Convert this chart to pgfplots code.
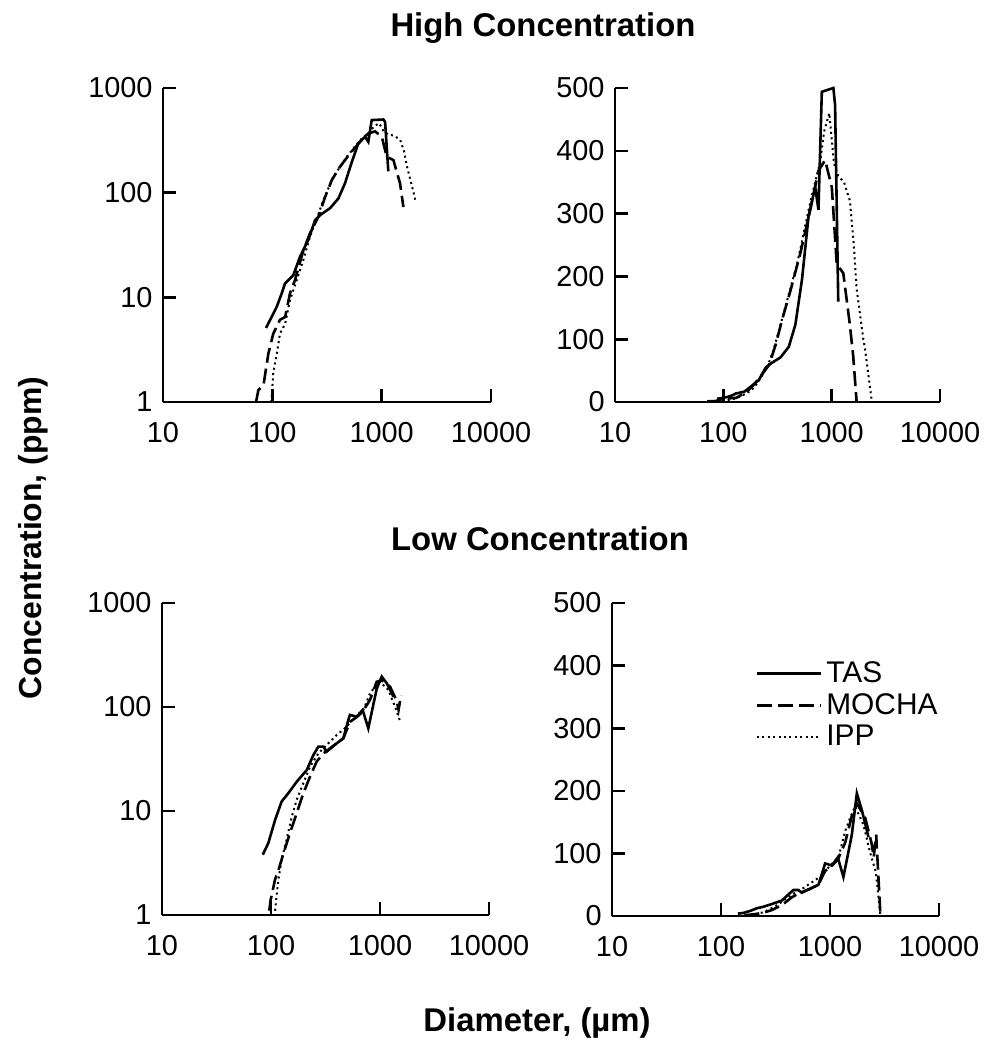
\documentclass[border=0pt]{standalone}
\usepackage{fontspec}
\setmainfont{Liberation Sans}
\usepackage{pgfplots}
\pgfplotsset{compat=1.18}
\usepackage{pgfplotstable}

% High concentration
\pgfplotstableread{
d c
87.5 5.1
98.6 6.5
109.6 8.1
121.8 10.9
130.7 13.6
155.6 16.3
179 24.4
213 35.3
246 54.7
273 61
337 71
402 88
462 123
532 195
612 296
705 342
755 306
811 494
1037 500
1075 473
1150 160
}\tashigh
\pgfplotstableread{
d c
71 1.0
74.5 1.3
83 1.45
92 2.9
102 4.5
117.5 6.1
131 6.5
145 10.9
161 14.6
192 28
221 41
264 59
304 91
350 132
416 177
514 237
634 306
755 368
870 385
1003 342
1113 220
1280 205
1472 123
1580 73
1700 0
}\mochahigh
\pgfplotstableread{
d c
98 1.0
102 1.9
110 2.9
117.5 4.5
131 5.6
145 9.4
167 14.6
192 22.7
221 38
260 60
293 85
361 142
480 220
634 318
783 382
850 430
950 460
1050 380
1150 360
1300 350
1475 320
1600 250
1700 180
1960 100
2030 85
2350 0
}\ipphigh

% Low concentration (left panel)
\pgfplotstableread{
d c
84 3.8
94.4 4.9
109 8.2
125 12.3
144 14.8
172 19.1
213 24.8
245 34.6
272 41.6
302 41.6
324 37.2
401 44.8
461 50
512 75
530 84
611 80.7
693 93.6
781 62.4
933 150
1037 196
1153 169
1326 126
}\taslow
\pgfplotstableread{
d c
96.4 1.1
99.3 1.4
109 2.2
117 2.7
130 3.9
149 6.1
172 9.5
198 14.8
228 21.4
262 29.8
302 35.8
401 44.8
461 50
530 72
611 80
693 90
809 117
933 175
1037 180
1236 157
1420 115
1480 94
1560 130
1708 0
}\mochalow
\pgfplotstableread{
d c
109 1.1
113 1.6
117 2.2
125 3.4
139 5.3
155 8.8
172 12.8
198 18.5
228 26.7
272 35.8
336 44.8
401 53.8
495 64.7
590 80.7
703 93.6
809 135
900 157
1000 175
1191 146
1374 101
1550 70
1708 0
}\ipplow

% Low concentration (right panel)
\pgfplotstableread{
d c
142.8 3.8
160.5 4.9
185.3 8.2
212.5 12.3
244.8 14.8
292.4 19.1
362.1 24.8
416.5 34.6
462.4 41.6
513.4 41.6
550.8 37.2
681.7 44.8
783.7 50
870.4 75
901 84
1038.7 80.7
1178.1 93.6
1327.7 62.4
1586.1 130
1762.9 196
1960.1 169
2254.2 126
}\taslowr
\pgfplotstableread{
d c
163.9 1.1
168.8 1.4
185.3 2.2
198.9 2.7
221 3.9
253.3 6.1
292.4 9.5
336.6 14.8
387.6 21.4
445.4 29.8
513.4 35.8
681.7 44.8
783.7 50
901 72
1038.7 80
1178.1 90
1375.3 117
1586.1 160
1762.9 180
2101.2 157
2414 115
2516 94
2652 130
2903.6 0
}\mochalowr
\pgfplotstableread{
d c
185.3 1.1
192.1 1.6
198.9 2.2
212.5 3.4
236.3 5.3
263.5 8.8
292.4 12.8
336.6 18.5
387.6 26.7
462.4 35.8
571.2 44.8
681.7 53.8
841.5 64.7
1003 80.7
1195.1 93.6
1375.3 135
1530 157
1700 175
2024.7 146
2335.8 101
2635 70
2903.6 0
}\ipplowr

\pgfplotsset{
  panel/.style={
    scale only axis,
    axis lines=left,
    axis line style={-, line width=1.4bp},
    tick align=inside,
    major tick length=6.5bp,
    every tick/.style={black, line width=1.3bp},
    xmin=10, xmax=10000,
    xtick={10,100,1000,10000},
    xticklabels={10,100,1000,10000},
    xminorticks=false, yminorticks=false,
    ticklabel style={font=\fontsize{14.5}{16}\selectfont},
    yticklabel style={xshift=-1.7bp},
    xticklabel style={yshift=-6.5bp},
    clip=false,
  },
  logy/.style={ymin=1, ymax=1000,
    ytick={1,10,100,1000}, yticklabels={1,10,100,1000}},
  liny/.style={ymin=0, ymax=500, ytick={0,100,200,300,400,500},
    yticklabels={0,100,200,300,400,500}},
  tas/.style={black, line width=1.3bp, solid},
  mocha/.style={black, line width=1.3bp, dash pattern=on 7.5bp off 3bp},
  ipp/.style={black, line width=1bp, dash pattern=on 1bp off 1.7bp},
}

\begin{document}
\begin{tikzpicture}
\path[use as bounding box] (0,0) rectangle (499.5bp,-523bp);

\node[font=\bfseries\fontsize{16.5}{18}\selectfont, anchor=base] at (271.5bp,-18.2bp) {High Concentration};
\node[font=\bfseries\fontsize{16.5}{18}\selectfont, anchor=base] at (270bp,-275bp) {Low Concentration};
\node[font=\bfseries\fontsize{16.5}{18}\selectfont, anchor=base] at (268.5bp,-515.5bp) {Diameter, (µm)};
\node[font=\bfseries\fontsize{16}{18}\selectfont, rotate=90] at (16.5bp,-269bp) {Concentration, (ppm)};

% Top-left
\begin{axis}[xmode=log, ymode=log, panel, logy, at={(81.5bp,-201bp)}, anchor=south west, width=164bp, height=157bp]
\addplot[tas] table[x=d,y=c] {\tashigh};
\addplot[mocha] table[x=d,y=c] {\mochahigh};
\addplot[ipp] table[x=d,y=c] {\ipphigh};
\end{axis}

% Top-right
\begin{axis}[xmode=log, panel, liny, at={(307.5bp,-201bp)}, anchor=south west, width=162.5bp, height=157bp]
\addplot[tas] table[x=d,y=c] {\tashigh};
\addplot[mocha] table[x=d,y=c] {\mochahigh};
\addplot[ipp] table[x=d,y=c] {\ipphigh};
\end{axis}

% Bottom-left
\begin{axis}[xmode=log, ymode=log, panel, logy, at={(81bp,-457.5bp)}, anchor=south west, width=163.5bp, height=156bp]
\addplot[tas] table[x=d,y=c] {\taslow};
\addplot[mocha] table[x=d,y=c] {\mochalow};
\addplot[ipp] table[x=d,y=c] {\ipplow};
\end{axis}

% Bottom-right
\begin{axis}[xmode=log, panel, liny, at={(306bp,-458bp)}, anchor=south west, width=163.5bp, height=156.5bp,
  legend style={at={(0.42,0.84)}, anchor=north west, draw=none, fill=none,
    font=\fontsize{15}{16}\selectfont, row sep=0bp},
  legend cell align=left,
  legend image code/.code={\draw[#1] (0bp,0bp) -- (32bp,0bp);}]
\addplot[tas] table[x=d,y=c] {\taslowr};
\addlegendentry{TAS}
\addplot[mocha] table[x=d,y=c] {\mochalowr};
\addlegendentry{MOCHA}
\addplot[ipp] table[x=d,y=c] {\ipplowr};
\addlegendentry{IPP}
\end{axis}
\end{tikzpicture}
\end{document}
